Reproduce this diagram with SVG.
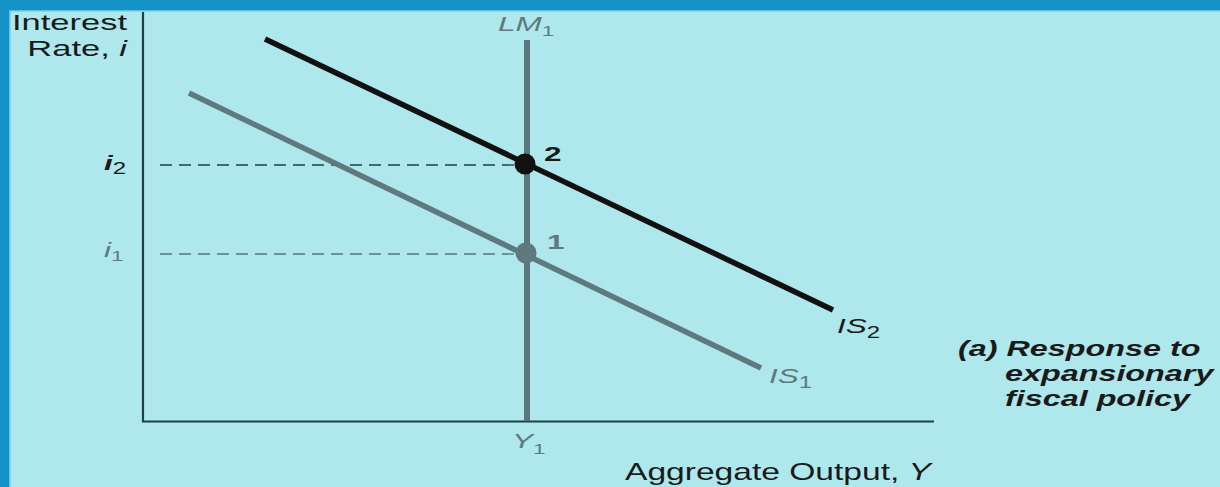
<svg xmlns="http://www.w3.org/2000/svg" width="1220" height="487" viewBox="0 0 1220 487">
<style>
.t{font-family:"Liberation Sans",Arial,sans-serif;fill:#1a1a1a}
.it{font-style:italic}
.g{fill:#5e7a7f}
.dash{stroke-dasharray:12,7;stroke-width:1.3;fill:none}
</style>
<rect x="0" y="0" width="1220" height="487" fill="#aee8ed"/>
<rect x="0" y="0" width="1220" height="10" fill="#1593c8"/>
<rect x="0" y="10" width="1220" height="1.5" fill="#5cc4e4"/>
<rect x="0" y="0" width="9" height="487" fill="#1593c8"/>
<rect x="9" y="10" width="1.5" height="477" fill="#5cc4e4"/>
<g id="axes" fill="none" stroke="#1f3f45" stroke-width="2.2">
<polyline points="143,12 143,421.5 934,421.5"/>
</g>
<g id="axis-labels">
<text class="t" transform="translate(127,30) scale(1.5,1)" font-size="23" text-anchor="end">Interest</text>
<text class="t" transform="translate(127,56) scale(1.5,1)" font-size="23" text-anchor="end">Rate, <tspan class="it">i</tspan></text>
<text class="t" transform="translate(625,480) scale(1.46,1)" font-size="23">Aggregate Output,  <tspan class="it">Y</tspan></text>
<text class="t g it" transform="translate(512,448) scale(1.5,1)" font-size="21">Y<tspan font-size="15" dy="6" font-style="normal">1</tspan></text>
<text class="t it" transform="translate(104,170) scale(1.5,1)" font-size="21" font-weight="bold">i<tspan font-size="16" dy="4" font-style="normal" font-weight="normal">2</tspan></text>
<text class="t g it" transform="translate(104,257) scale(1.5,1)" font-size="21">i<tspan font-size="15" dy="4" font-style="normal">1</tspan></text>
</g>
<g id="connectors">
<line class="dash" x1="160" y1="165" x2="518" y2="165" stroke="#1f3f45"/>
<line class="dash" x1="160" y1="254" x2="518" y2="254" stroke="#56767b"/>
</g>
<g id="LM1">
<line x1="527" y1="40" x2="527" y2="421" stroke="#5a787c" stroke-width="6"/>
<text class="t g it" transform="translate(498,31) scale(1.5,1)" font-size="21">LM<tspan font-size="15" dy="5" font-style="normal">1</tspan></text>
</g>
<g id="IS1">
<line x1="189" y1="93" x2="761" y2="368" stroke="#5e7a7f" stroke-width="5.5"/>
<text class="t g it" transform="translate(769,383) scale(1.5,1)" font-size="21">IS<tspan font-size="16" dy="5" font-style="normal">1</tspan></text>
</g>
<g id="IS2">
<line x1="265" y1="39" x2="833" y2="310" stroke="#111" stroke-width="5.5"/>
<text class="t it" transform="translate(837,333) scale(1.5,1)" font-size="21">IS<tspan font-size="16" dy="5" font-style="normal">2</tspan></text>
</g>
<g id="point2">
<circle cx="525" cy="164" r="10.5" fill="#111"/>
<text class="t" transform="translate(544,161) scale(1.5,1)" font-size="21" font-weight="bold">2</text>
</g>
<g id="point1">
<circle cx="526" cy="253" r="10.5" fill="#5e7a7f"/>
<text class="t g" transform="translate(547,249) scale(1.5,1)" font-size="21" font-weight="bold">1</text>
</g>
<g id="caption">
<text class="t it" transform="translate(958,356) scale(1.47,1)" font-size="22" font-weight="bold">(a) Response to</text>
<text class="t it" transform="translate(1005,381) scale(1.47,1)" font-size="22" font-weight="bold">expansionary</text>
<text class="t it" transform="translate(1005,406) scale(1.47,1)" font-size="22" font-weight="bold">fiscal policy</text>
</g>
</svg>
